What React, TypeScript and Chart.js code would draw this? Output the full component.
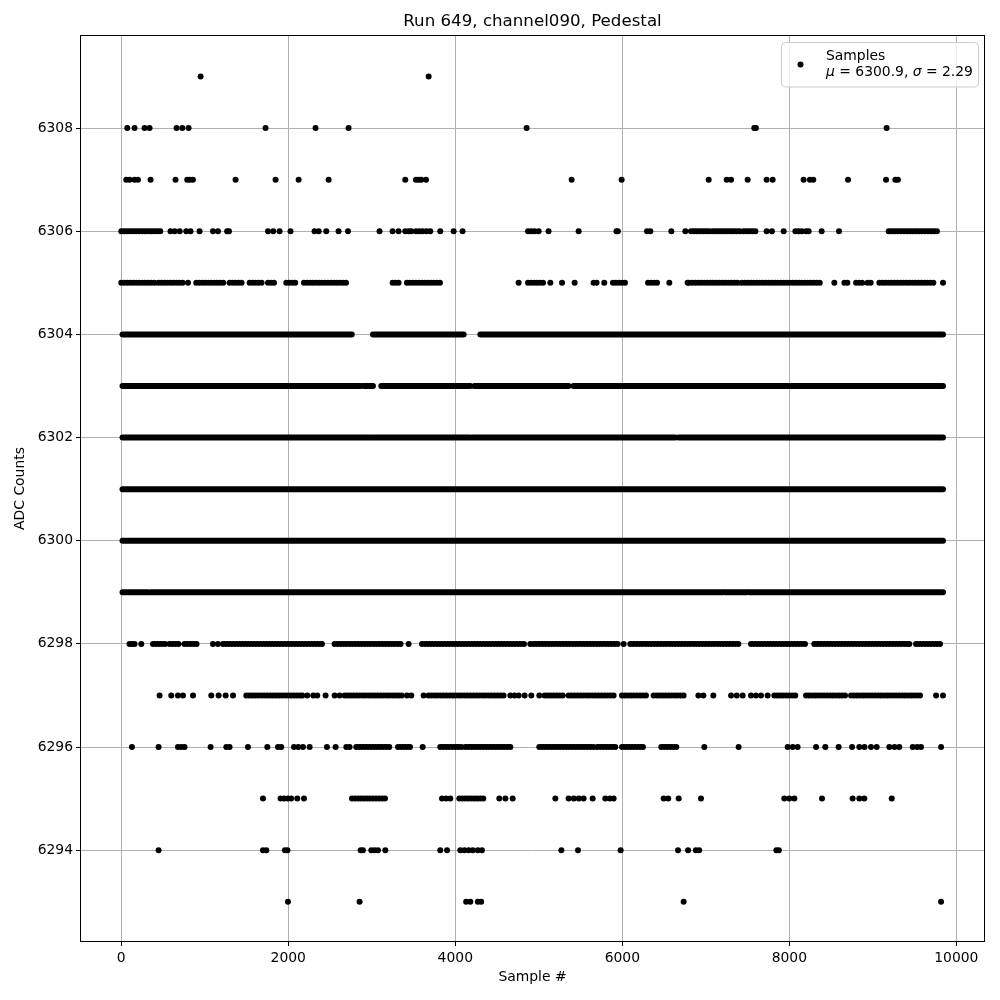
import React, { useEffect, useRef } from "react";
import { Chart, registerables } from "chart.js";

Chart.register(...registerables);

const TITLE = "Run 649, channel090, Pedestal";
const X_LABEL = "Sample #";
const Y_LABEL = "ADC Counts";
const LEGEND_LABEL = "Samples";
const MU_VALUE = "6300.9";
const SIGMA_VALUE = "2.29";

const X_TICKS = [0, 2000, 4000, 6000, 8000, 10000];
const Y_TICKS = [6294, 6296, 6298, 6300, 6302, 6304, 6306, 6308];
const X_MIN = -494;
const X_MAX = 10343;
const Y_MIN = 6292.22;
const Y_MAX = 6309.805;

// isolated samples per ADC level (sample index)
const PTS_6309 = [950, 3681];
const PTS_6308 = [72, 159, 279, 339, 662, 731, 806, 1728, 2327, 2722, 4854, 7580, 7600, 9165];
const PTS_6307 = [60, 100, 159, 200, 351, 650, 790, 822, 858, 1369, 1848, 2124, 2483, 3401, 3529, 3561, 3593, 3649, 5393, 5992, 7034, 7250, 7302, 7501, 7728, 7800, 8171, 8247, 8287, 8703, 9158, 9270, 9300];
const PTS_6306 = [590, 640, 700, 778, 830, 938, 1098, 1158, 1268, 1290, 1757, 1820, 1896, 2027, 2315, 2365, 2455, 2602, 2715, 3093, 3249, 3321, 3401, 3441, 3473, 3529, 3570, 3610, 3657, 3700, 3820, 3980, 4087, 4871, 4910, 4950, 4998, 5117, 5477, 5930, 5947, 6296, 6336, 6587, 6755, 7728, 7792, 7932, 8072, 8110, 8150, 8200, 8231, 8387, 8595];
const PTS_6305 = [799, 4758, 5138, 5278, 5429, 5784, 6563, 6782, 8539, 9840];
const PTS_6298 = [99, 130, 159, 240, 1098, 1158, 3441, 4898, 6016, 9437];
const PTS_6297 = [459, 599, 679, 739, 859, 1078, 1166, 1250, 1338, 2168, 2228, 2300, 2347, 2447, 2555, 2615, 3421, 3473, 3621, 4659, 4710, 4758, 4830, 4910, 5006, 6911, 6971, 7090, 7302, 7370, 7441, 7541, 7600, 7661, 7740, 9757, 9840];
const PTS_6296 = [128, 447, 679, 720, 758, 1070, 1258, 1297, 1517, 1749, 1877, 1916, 2068, 2120, 2176, 2256, 2463, 2567, 2695, 2734, 3609, 6982, 7393, 7980, 8040, 8099, 8320, 8431, 8590, 8751, 8838, 8900, 8978, 9046, 9198, 9260, 9317, 9477, 9530, 9577, 9817];
const PTS_6295 = [1697, 1908, 1950, 1995, 2036, 2108, 2188, 3841, 3890, 3940, 4527, 4600, 4687, 5198, 5357, 5420, 5480, 5537, 5645, 5796, 5850, 5896, 6495, 6550, 6675, 6942, 7940, 8000, 8060, 8391, 8758, 8838, 8898, 9226];
const PTS_6294 = [447, 1697, 1737, 1960, 1990, 2866, 2894, 2994, 3034, 3074, 3162, 3820, 3901, 4060, 4110, 4160, 4210, 4270, 4319, 5270, 5469, 5980, 6667, 6787, 6880, 6920, 7845, 7875];
const PTS_6293 = [1996, 2854, 4130, 4180, 4270, 4310, 6734, 9817];

// stretches of consecutive samples at one level [first, last]
const RUNS_6306 = [[0, 500], [6822, 7050], [7080, 7420], [7450, 7601], [9190, 9280], [9300, 9776]];
const RUNS_6305 = [[0, 420], [447, 739], [898, 1237], [1297, 1446], [1537, 1716], [1757, 1856], [1976, 2116], [2188, 2707], [3249, 3341], [3421, 3820], [4871, 5058], [5656, 5716], [5888, 6056], [6308, 6416], [6802, 7400], [7430, 8399], [8659, 8719], [8799, 8878], [8938, 8990], [9078, 9757]];
const RUNS_6304 = [[15, 2760], [3014, 3174], [3190, 4100], [4300, 9840]];
const RUNS_6303 = [[15, 2870], [2907, 3014], [3114, 4180], [4231, 5357], [5417, 9840]];
const RUNS_6302 = [[15, 2994], [3014, 4180], [4207, 6635], [6675, 9840]];
const RUNS_6301 = [[15, 9840]];
const RUNS_6300 = [[15, 9840]];
const RUNS_6299 = [[15, 320], [351, 7201], [7233, 7489], [7521, 9840]];
const RUNS_6298 = [[380, 539], [578, 719], [758, 919], [1218, 2416], [2555, 3361], [3601, 4838], [4938, 5956], [6096, 7401], [7541, 8219], [8299, 9417], [9517, 9840]];
const RUNS_6297 = [[1497, 2156], [2675, 3361], [3680, 4599], [5070, 5318], [5357, 5916], [5996, 6315], [6375, 6755], [7820, 8100], [8200, 8679], [8739, 9597]];
const RUNS_6296 = [[2814, 3242], [3314, 3481], [3820, 4080], [4120, 4679], [5006, 5660], [5700, 5916], [5996, 6275], [6467, 6655]];
const RUNS_6295 = [[2763, 3174], [4048, 4339]];

const LEVEL_POINTS: [number, number[]][] = [
  [6309, PTS_6309], [6308, PTS_6308], [6307, PTS_6307], [6306, PTS_6306],
  [6305, PTS_6305], [6298, PTS_6298], [6297, PTS_6297], [6296, PTS_6296],
  [6295, PTS_6295], [6294, PTS_6294], [6293, PTS_6293],
];
// [level, runs, sparse chain?]
const LEVEL_RUNS: [number, number[][], boolean][] = [
  [6306, RUNS_6306, true], [6305, RUNS_6305, true], [6304, RUNS_6304, false], [6303, RUNS_6303, false],
  [6302, RUNS_6302, false], [6301, RUNS_6301, false], [6300, RUNS_6300, false], [6299, RUNS_6299, false],
  [6298, RUNS_6298, true], [6297, RUNS_6297, true], [6296, RUNS_6296, true], [6295, RUNS_6295, true],
];

const FONT = "'DejaVu Sans', sans-serif";

const decorPlugin = {
  id: "decor",
  afterDatasetsDraw(chart: any) {
    const { ctx, chartArea: a } = chart;
    ctx.save();
    ctx.strokeStyle = "#000";
    ctx.lineWidth = 1;
    ctx.strokeRect(a.left + 0.5, a.top + 0.5, a.right - a.left - 1, a.bottom - a.top - 1);
    ctx.restore();
  },
  afterDraw(chart: any) {
    const { ctx, chartArea: a } = chart;
    const cx = (a.left + a.right) / 2;
    ctx.save();
    ctx.fillStyle = "#000";
    ctx.textAlign = "center";
    ctx.textBaseline = "middle";
    ctx.font = `16.67px ${FONT}`;
    ctx.fillText(TITLE, cx, 22);
    ctx.font = `13.9px ${FONT}`;
    ctx.fillText(X_LABEL, cx, 977);
    ctx.save();
    ctx.translate(20, (a.top + a.bottom) / 2);
    ctx.rotate(-Math.PI / 2);
    ctx.fillText(Y_LABEL, 0, 0);
    ctx.restore();

    // legend
    const bx = 781.5, by = 42.5, bw = 197, bh = 44.5, r = 4;
    ctx.beginPath();
    ctx.moveTo(bx + r, by);
    ctx.lineTo(bx + bw - r, by);
    ctx.quadraticCurveTo(bx + bw, by, bx + bw, by + r);
    ctx.lineTo(bx + bw, by + bh - r);
    ctx.quadraticCurveTo(bx + bw, by + bh, bx + bw - r, by + bh);
    ctx.lineTo(bx + r, by + bh);
    ctx.quadraticCurveTo(bx, by + bh, bx, by + bh - r);
    ctx.lineTo(bx, by + r);
    ctx.quadraticCurveTo(bx, by, bx + r, by);
    ctx.closePath();
    ctx.fillStyle = "rgba(255,255,255,0.8)";
    ctx.fill();
    ctx.strokeStyle = "#cccccc";
    ctx.lineWidth = 1;
    ctx.stroke();

    ctx.fillStyle = "#000";
    ctx.beginPath();
    ctx.arc(800.5, 64.5, 3, 0, Math.PI * 2);
    ctx.fill();

    ctx.textAlign = "left";
    ctx.textBaseline = "alphabetic";
    ctx.font = `13.9px ${FONT}`;
    ctx.fillText(LEGEND_LABEL, 826, 59.5);
    let x = 826;
    const base = 75.5;
    const parts: [string, boolean][] = [
      ["\u03bc", true], [" = " + MU_VALUE + ", ", false], ["\u03c3", true], [" = " + SIGMA_VALUE, false],
    ];
    for (const [t, it] of parts) {
      ctx.font = `${it ? "italic " : ""}13.9px ${FONT}`;
      ctx.fillText(t, x, base);
      x += ctx.measureText(t).width;
    }
    ctx.restore();
  },
};

export default function App() {
  const ref = useRef<HTMLCanvasElement | null>(null);
  useEffect(() => {
    if (!ref.current) return;
    const datasets: any[] = [];
    for (const [lvl, runs, chain] of LEVEL_RUNS) {
      const data: any[] = [];
      for (const [s, e] of runs) {
        data.push({ x: s, y: lvl }, { x: e, y: lvl }, { x: e, y: null });
      }
      datasets.push({
        type: "line",
        label: "run" + lvl,
        data,
        showLine: true,
        spanGaps: false,
        borderColor: "#000",
        borderWidth: 6,
        borderCapStyle: "round",
        borderDash: chain ? [0, 3] : [],
        pointRadius: 0,
        pointHoverRadius: 0,
        fill: false,
        tension: 0,
      });
    }
    const pts: any[] = [];
    for (const [lvl, xs] of LEVEL_POINTS) for (const x of xs) pts.push({ x, y: lvl });
    datasets.push({
      type: "scatter",
      label: LEGEND_LABEL,
      data: pts,
      backgroundColor: "#000",
      borderWidth: 0,
      pointRadius: 3,
      pointHoverRadius: 3,
    });

    const tickFont = { family: FONT, size: 13.9 };
    const chart = new Chart(ref.current, {
      type: "scatter",
      data: { datasets },
      options: {
        responsive: false,
        animation: false,
        events: [],
        layout: { padding: { top: 35, right: 15, left: 0, bottom: 0 } },
        plugins: { legend: { display: false }, title: { display: false }, tooltip: { enabled: false } },
        scales: {
          x: {
            type: "linear",
            min: X_MIN,
            max: X_MAX,
            afterBuildTicks: (s: any) => { s.ticks = X_TICKS.map((v) => ({ value: v })); },
            afterFit: (s: any) => { s.height = 58; },
            grid: { color: "#b0b0b0", lineWidth: 1, tickColor: "#000", tickLength: 4, drawTicks: true },
            border: { display: false },
            ticks: { color: "#000", font: tickFont, padding: 4, maxRotation: 0, autoSkip: false, callback: (v: any) => String(v) },
          },
          y: {
            type: "linear",
            min: Y_MIN,
            max: Y_MAX,
            afterBuildTicks: (s: any) => { s.ticks = Y_TICKS.map((v) => ({ value: v })); },
            afterFit: (s: any) => { s.width = 80; },
            grid: { color: "#b0b0b0", lineWidth: 1, tickColor: "#000", tickLength: 4, drawTicks: true },
            border: { display: false },
            ticks: { color: "#000", font: tickFont, padding: 3, autoSkip: false, callback: (v: any) => String(v) },
          },
        },
      } as any,
      plugins: [decorPlugin],
    });
    return () => chart.destroy();
  }, []);
  return (
    <div style={{ position: "absolute", left: 0, top: 0, width: 1000, height: 1000, background: "#fff" }}>
      <canvas ref={ref} width={1000} height={1000} />
    </div>
  );
}
